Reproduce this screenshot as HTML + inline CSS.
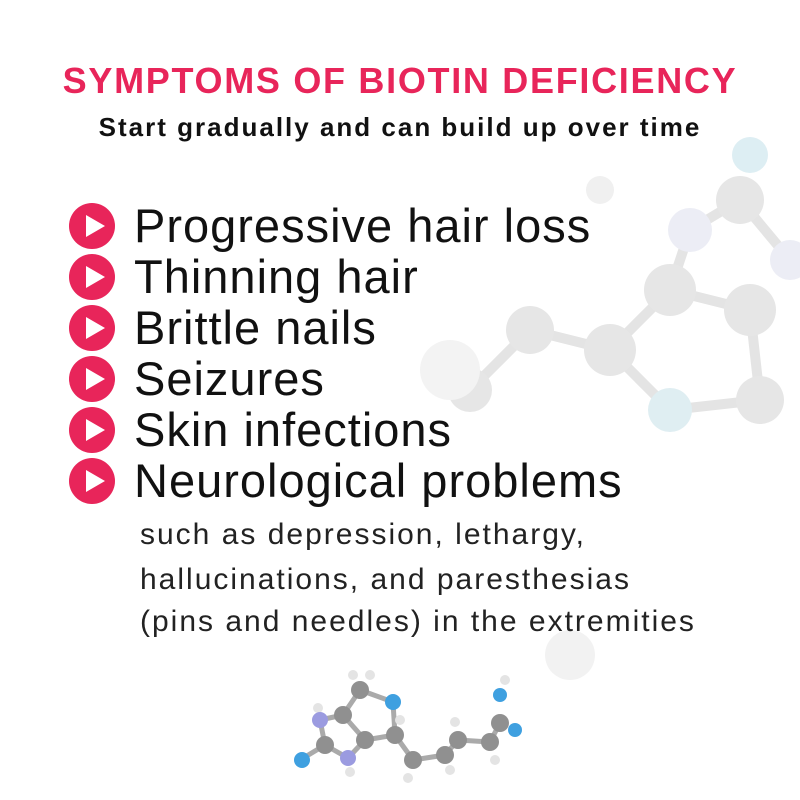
<!DOCTYPE html>
<html><head><style>
body{margin:0;width:800px;height:800px;background:#fff;position:relative;overflow:hidden;font-family:"Liberation Sans",sans-serif}
.t{position:absolute;left:0;width:800px;text-align:center;white-space:nowrap}
.li{position:absolute;left:134px;font-size:47px;letter-spacing:1px;color:#111;white-space:nowrap;line-height:50px}
.b{position:absolute;left:69px;width:46px;height:46px;border-radius:50%;background:#e8255a}
.b:after{content:"";position:absolute;left:17px;top:12px;border-left:19px solid #fff;border-top:11px solid transparent;border-bottom:11px solid transparent}
.s{position:absolute;left:140px;font-size:30px;letter-spacing:2px;color:#222;white-space:nowrap}
</style></head><body>
<svg width="800" height="800" style="position:absolute;left:0;top:0">
<g fill="#ececec" stroke="#e4e4e4" stroke-width="10">
<line x1="530" y1="330" x2="610" y2="350"/><line x1="610" y1="350" x2="670" y2="290"/><line x1="670" y1="290" x2="750" y2="310"/><line x1="750" y1="310" x2="760" y2="400"/><line x1="610" y1="350" x2="670" y2="410"/><line x1="670" y1="410" x2="760" y2="400"/><line x1="670" y1="290" x2="690" y2="230"/><line x1="690" y1="230" x2="740" y2="200"/><line x1="740" y1="200" x2="790" y2="260"/><line x1="530" y1="330" x2="470" y2="390"/>
</g>
<g fill="#e6e6e6">
<circle cx="530" cy="330" r="24"/><circle cx="610" cy="350" r="26"/><circle cx="670" cy="290" r="26"/><circle cx="750" cy="310" r="26"/><circle cx="760" cy="400" r="24"/><circle cx="470" cy="390" r="22"/><circle cx="740" cy="200" r="24"/>
<circle cx="600" cy="190" r="14" fill="#f0f0f0"/><circle cx="450" cy="370" r="30" fill="#f3f3f3"/>
</g>
<circle cx="670" cy="410" r="22" fill="#dfeef2"/><circle cx="690" cy="230" r="22" fill="#ecedf5"/><circle cx="750" cy="155" r="18" fill="#ddeef3"/><circle cx="790" cy="260" r="20" fill="#ecedf5"/>
<circle cx="570" cy="655" r="25" fill="#f2f2f2"/>
<g stroke="#aaa" stroke-width="5">
<line x1="320" y1="720" x2="325" y2="745"/><line x1="325" y1="745" x2="348" y2="758"/><line x1="348" y1="758" x2="365" y2="740"/><line x1="365" y1="740" x2="343" y2="715"/><line x1="343" y1="715" x2="320" y2="720"/><line x1="343" y1="715" x2="360" y2="690"/><line x1="360" y1="690" x2="393" y2="702"/><line x1="393" y1="702" x2="395" y2="735"/><line x1="365" y1="740" x2="395" y2="735"/><line x1="395" y1="735" x2="413" y2="760"/><line x1="413" y1="760" x2="445" y2="755"/><line x1="445" y1="755" x2="458" y2="740"/><line x1="458" y1="740" x2="490" y2="742"/><line x1="490" y1="742" x2="500" y2="723"/><line x1="300" y1="760" x2="325" y2="745"/></g>
<g fill="#909090"><circle cx="343" cy="715" r="9"/><circle cx="360" cy="690" r="9"/><circle cx="365" cy="740" r="9"/><circle cx="395" cy="735" r="9"/><circle cx="413" cy="760" r="9"/><circle cx="445" cy="755" r="9"/><circle cx="458" cy="740" r="9"/><circle cx="490" cy="742" r="9"/><circle cx="500" cy="723" r="9"/><circle cx="325" cy="745" r="9"/></g>
<g fill="#e4e4e4"><circle cx="318" cy="708" r="5"/><circle cx="350" cy="772" r="5"/><circle cx="353" cy="675" r="5"/><circle cx="370" cy="675" r="5"/><circle cx="400" cy="720" r="5"/><circle cx="408" cy="778" r="5"/><circle cx="450" cy="770" r="5"/><circle cx="455" cy="722" r="5"/><circle cx="495" cy="760" r="5"/><circle cx="505" cy="680" r="5"/></g>
<g fill="#9b9be0"><circle cx="320" cy="720" r="8"/><circle cx="348" cy="758" r="8"/></g>
<g fill="#3fa0e0"><circle cx="302" cy="760" r="8"/><circle cx="393" cy="702" r="8"/><circle cx="500" cy="695" r="7"/><circle cx="515" cy="730" r="7"/></g>
</svg>
<div class="t" style="top:60px;font-size:36px;letter-spacing:1.7px;font-weight:bold;color:#e8255a">SYMPTOMS OF BIOTIN DEFICIENCY</div>
<div class="t" style="top:112px;font-size:26px;letter-spacing:2px;font-weight:bold;color:#111">Start gradually and can build up over time</div>
<div class="b" style="top:203px"></div><div class="li" style="top:201px">Progressive hair loss</div>
<div class="b" style="top:254px"></div><div class="li" style="top:252px">Thinning hair</div>
<div class="b" style="top:305px"></div><div class="li" style="top:303px">Brittle nails</div>
<div class="b" style="top:356px"></div><div class="li" style="top:354px">Seizures</div>
<div class="b" style="top:407px"></div><div class="li" style="top:405px">Skin infections</div>
<div class="b" style="top:458px"></div><div class="li" style="top:456px">Neurological problems</div>
<div class="s" style="top:518px">such as depression, lethargy,</div>
<div class="s" style="top:563px">hallucinations, and paresthesias</div>
<div class="s" style="top:605px">(pins and needles) in the extremities</div>
</body></html>
